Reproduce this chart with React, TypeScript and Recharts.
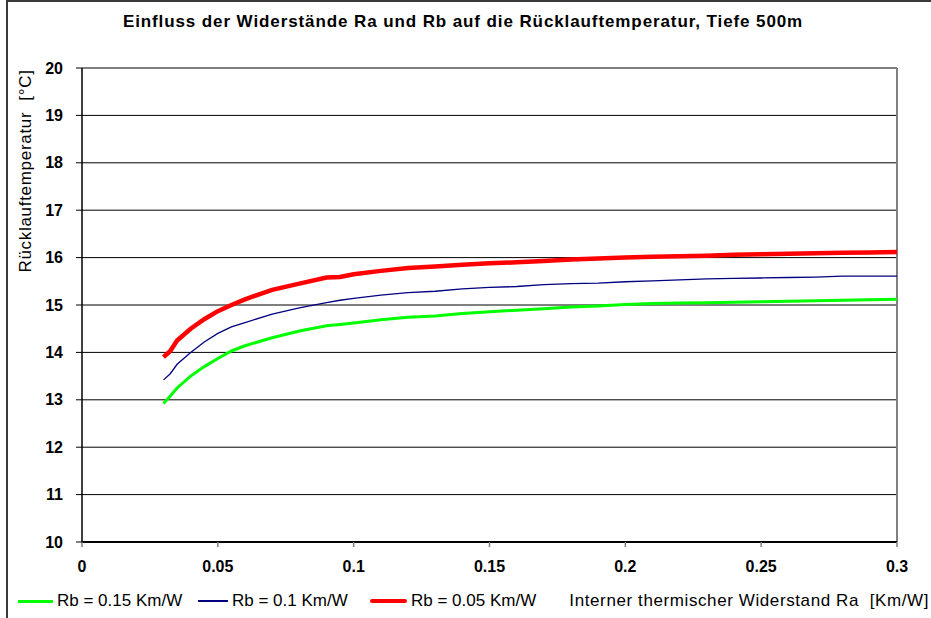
import { CartesianGrid, Line, LineChart, ReferenceLine, XAxis, YAxis } from "recharts";

// Interner thermischer Widerstand Ra [Km/W]
const ra = [
  0.03, 0.0325, 0.035, 0.04, 0.045, 0.05, 0.055, 0.06, 0.07, 0.08, 0.09, 0.095, 0.1, 0.11, 0.12, 0.13,
  0.14, 0.15, 0.16, 0.17, 0.18, 0.19, 0.2, 0.21, 0.22, 0.23, 0.24, 0.25, 0.26, 0.27, 0.28, 0.29, 0.3,
];

// Rücklauftemperatur [°C] per Rb
const rb015 = [
  12.92, 13.08, 13.25, 13.5, 13.7, 13.87, 14.03, 14.14, 14.31, 14.45, 14.56, 14.59, 14.62, 14.69, 14.74, 14.77,
  14.82, 14.86, 14.89, 14.92, 14.96, 14.98, 15.01, 15.03, 15.04, 15.05, 15.06, 15.07, 15.08, 15.09, 15.1, 15.11, 15.12,
];
const rb010 = [
  13.42, 13.55, 13.75, 14.0, 14.22, 14.4, 14.54, 14.63, 14.81, 14.94, 15.05, 15.1, 15.14, 15.21, 15.26, 15.29,
  15.34, 15.37, 15.39, 15.43, 15.45, 15.46, 15.49, 15.51, 15.53, 15.55, 15.56, 15.57, 15.58, 15.59, 15.61, 15.61, 15.61,
];
const rb005 = [
  13.9, 14.03, 14.25, 14.5, 14.7, 14.87, 15.0, 15.12, 15.32, 15.45, 15.58, 15.59, 15.65, 15.72, 15.78, 15.81,
  15.85, 15.88, 15.9, 15.93, 15.96, 15.98, 16.0, 16.02, 16.03, 16.04, 16.06, 16.07, 16.08, 16.09, 16.1, 16.11, 16.12,
];

const xTicks = [0, 0.05, 0.1, 0.15, 0.2, 0.25, 0.3];
const yTicks = [10, 11, 12, 13, 14, 15, 16, 17, 18, 19, 20];

const series = [
  { key: "rb015", name: "Rb = 0.15 Km/W", color: "#00ff00", width: 3 },
  { key: "rb010", name: "Rb = 0.1 Km/W", color: "#000080", width: 1.3 },
  { key: "rb005", name: "Rb = 0.05 Km/W", color: "#ff0000", width: 4.5 },
];

const data = ra.map((x, i) => ({ ra: x, rb015: rb015[i], rb010: rb010[i], rb005: rb005[i] }));

const FONT = '"Liberation Sans", Arial, sans-serif';

// legend swatch placement (left edge, swatch length)
const legendSlots = [
  { left: 18, len: 35 },
  { left: 198, len: 30 },
  { left: 370, len: 37 },
];

export default function App() {
  return (
    <div
      style={{
        position: "fixed",
        left: 0,
        top: 0,
        width: 931,
        height: 618,
        overflow: "hidden",
        background: "#fff",
        fontFamily: FONT,
      }}
    >
      <div
        style={{
          position: "absolute",
          left: 6,
          top: 0,
          width: 1000,
          height: 700,
          border: "2px solid #3a3a3a",
          boxSizing: "border-box",
        }}
      />
      <div
        style={{
          position: "absolute",
          left: 0,
          top: 12,
          width: 926,
          textAlign: "center",
          fontWeight: "bold",
          fontSize: 17,
          lineHeight: "20px",
          letterSpacing: 0.9,
        }}
      >
        Einfluss der Widerstände Ra und Rb auf die Rücklauftemperatur, Tiefe 500m
      </div>
      <div
        style={{
          position: "absolute",
          left: 26 - 130,
          top: 171 - 10,
          width: 260,
          height: 20,
          lineHeight: "20px",
          fontSize: 17,
          letterSpacing: 0.7,
          textAlign: "center",
          whiteSpace: "pre",
          transform: "rotate(-90deg)",
        }}
      >
        {"Rücklauftemperatur  [°C]"}
      </div>
      <div style={{ position: "absolute", left: 0, top: 0 }}>
        <LineChart width={931} height={618} data={data} margin={{ top: 68, right: 34, bottom: 46, left: 0 }}>
          <CartesianGrid vertical={false} stroke="#000" strokeWidth={1} />
          <XAxis
            dataKey="ra"
            type="number"
            domain={[0, 0.3]}
            ticks={xTicks}
            interval={0}
            height={30}
            axisLine={{ stroke: "#000", strokeWidth: 2 }}
            tickLine={{ stroke: "#808080", strokeWidth: 1.5 }}
            tickSize={5}
            tickMargin={14}
            tick={{ fill: "#000", fontSize: 16, fontWeight: "bold", fontFamily: FONT }}
          />
          <YAxis
            type="number"
            domain={[10, 20]}
            ticks={yTicks}
            interval={0}
            width={82}
            axisLine={{ stroke: "#000", strokeWidth: 1.5 }}
            tickLine={{ stroke: "#000" }}
            tickSize={6}
            tickMargin={13}
            tick={{ fill: "#000", fontSize: 16, fontWeight: "bold", fontFamily: FONT }}
          />
          <ReferenceLine x={0.3} stroke="#808080" strokeWidth={2} />
          {series.map((s) => (
            <Line
              key={s.key}
              type="linear"
              dataKey={s.key}
              name={s.name}
              stroke={s.color}
              strokeWidth={s.width}
              dot={false}
              activeDot={false}
              isAnimationActive={false}
            />
          ))}
        </LineChart>
      </div>
      {series.map((s, i) => (
        <div
          key={s.key}
          style={{
            position: "absolute",
            left: legendSlots[i].left,
            top: 591,
            height: 20,
            display: "flex",
            alignItems: "center",
            fontSize: 17,
            lineHeight: "20px",
            whiteSpace: "nowrap",
          }}
        >
          <span
            style={{
              display: "inline-block",
              width: legendSlots[i].len,
              height: s.width,
              background: s.color,
              marginRight: 4,
              borderRadius: s.width > 3 ? 2 : 0,
            }}
          />
          {s.name}
        </div>
      ))}
      <div
        style={{
          position: "absolute",
          right: 931 - 929,
          top: 591,
          fontSize: 17,
          lineHeight: "20px",
          letterSpacing: 0.6,
          whiteSpace: "pre",
        }}
      >
        {"Interner thermischer Widerstand Ra  [Km/W]"}
      </div>
    </div>
  );
}
